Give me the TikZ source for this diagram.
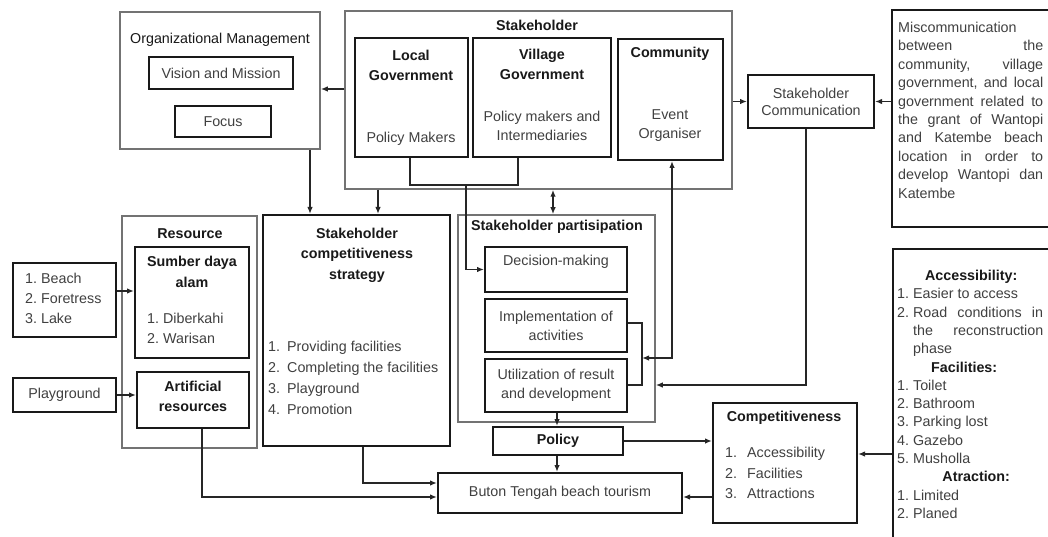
\documentclass[tikz,border=0pt]{standalone}
\usepackage{fontspec}
\setmainfont{Liberation Sans}
\usetikzlibrary{arrows.meta,fit,calc}
\frenchspacing
\begin{document}
\frenchspacing
\begin{tikzpicture}[x=1pt,y=-1pt,
  grp/.style={draw=black!55, line width=1.5pt, inner sep=0pt},
  bx/.style={draw=black!90, line width=2pt, inner sep=0pt, fill=white},
  txt/.style={inner sep=0pt, text=black!75, align=center, font=\fontsize{14.3}{19}\selectfont},
  ttl/.style={inner sep=0pt, text=black!90, align=center, font=\fontsize{14.3}{20}\selectfont\bfseries},
  lst/.style={inner sep=0pt, text=black!75, align=left, anchor=north west, font=\fontsize{14.3}{20}\selectfont},
  conn/.style={draw=black!85, line width=1.6pt},
  arr/.style={conn, -{Latex[length=7pt,width=5.5pt]}},
  darr/.style={conn, {Latex[length=7pt,width=5.5pt]}-{Latex[length=7pt,width=5.5pt]}},
]
\useasboundingbox[fill=white] (0,0) rectangle (1048,537);
\clip (0,0) rectangle (1048,537);

% helper coordinates
\foreach \v in {202,310,363,378,410,466,518,553,557,642,672,806} {\coordinate (x\v) at (\v,0);}
\foreach \v in {89,185,291,323,358,385,454,483,497} {\coordinate (y\v) at (0,\v);}

% ---------- group boxes ----------
\node[grp, fit={(120,12) (320,149)}] (org) {};
\node[grp, fit={(345,11) (732,189)}] (stake) {};
\node[grp, fit={(122,216) (257,448)}] (res) {};
\node[grp, fit={(458,215) (655,422)}] (part) {};

% ---------- inner boxes ----------
\node[bx, fit={(149,57) (293,89)}] (vm) {};
\node[bx, fit={(175,106) (271,137)}] (foc) {};
\node[bx, fit={(355,38) (468,157)}] (lg) {};
\node[bx, fit={(473,38) (611,157)}] (vg) {};
\node[bx, fit={(618,39) (723,160)}] (cm) {};
\node[bx, fit={(748,75) (874,128)}] (sc) {};
\node[bx, fit={(892,10) (1056,227)}] (misc) {};
\node[bx, fit={(893,249) (1056,560)}] (rbox) {};
\node[bx, fit={(13,263) (116,337)}] (nat) {};
\node[bx, fit={(13,378) (116,412)}] (play) {};
\node[bx, fit={(135,247) (249,358)}] (sumber) {};
\node[bx, fit={(137,372) (249,428)}] (art) {};
\node[bx, fit={(263,215) (450,446)}] (strat) {};
\node[bx, fit={(485,247) (627,292)}] (dm) {};
\node[bx, fit={(485,299) (627,352)}] (impl) {};
\node[bx, fit={(485,359) (627,412)}] (util) {};
\node[bx, fit={(493,427) (623,455)}] (pol) {};
\node[bx, fit={(438,473) (682,513)}] (buton) {};
\node[bx, fit={(713,403) (857,523)}] (comp) {};

% ---------- texts ----------
\node[txt, text=black!90] (orgT) at (220,40) {Organizational Management};
\node[txt] (vmT) at (vm) {Vision and Mission};
\node[txt] (focT) at (foc) {Focus};
\node[ttl] (stkT) at (537,25) {Stakeholder};
\node[ttl] (lgT) at (411,65) {Local\\Government};
\node[txt] (lgS) at (411,139) {Policy Makers};
\node[ttl] (vgT) at (542,64) {Village\\Government};
\node[txt] (vgS) at (542,126) {Policy makers and\\Intermediaries};
\node[ttl] (cmT) at (670,54) {Community};
\node[txt] (cmS) at (670,126) {Event\\Organiser};
\node[txt, font=\fontsize{14.3}{17}\selectfont] (scT) at (sc) {Stakeholder\\Communication};
\node[lst, font=\fontsize{14.3}{18.4}\selectfont] (miscT) at (898,22) {Miscommunication\\
\makebox[145pt][s]{between the}\\
\makebox[145pt][s]{community, village}\\
\makebox[145pt][s]{government, and local}\\
\makebox[145pt][s]{government related to}\\
\makebox[145pt][s]{the grant of Wantopi}\\
\makebox[145pt][s]{and Katembe beach}\\
\makebox[145pt][s]{location in order to}\\
\makebox[145pt][s]{develop Wantopi dan}\\
Katembe};
\node[lst, font=\fontsize{14.3}{18.3}\selectfont] (rbT) at (897,270) {%
\makebox[148pt][c]{\color{black!90}\bfseries Accessibility:}\\
1. Easier to access\\
2. \makebox[130pt][s]{Road conditions in}\\
\hspace*{16pt}\makebox[130pt][s]{the reconstruction}\\
\hspace*{16pt}phase\\
\makebox[134pt][c]{\color{black!90}\bfseries Facilities:}\\
1. Toilet\\
2. Bathroom\\
3. Parking lost\\
4. Gazebo\\
5. Musholla\\
\makebox[158pt][c]{\color{black!90}\bfseries Atraction:}\\
1. Limited\\
2. Planed};
\node[ttl] (resT) at (190,234) {Resource};
\node[ttl, font=\fontsize{14.3}{21}\selectfont\bfseries] (sumT) at (192,272) {Sumber daya\\alam};
\node[lst] (sumL) at (147,313) {1. Diberkahi\\2. Warisan};
\node[ttl] (artT) at (193,396) {Artificial\\resources};
\node[lst] (natL) at (25,273) {1. Beach\\2. Foretress\\3. Lake};
\node[txt] (playT) at (play) {Playground};
\node[ttl, font=\fontsize{14.3}{20.5}\selectfont\bfseries] (stratT) at (357,255) {Stakeholder\\competitiveness\\strategy};
\node[lst, font=\fontsize{14.3}{21}\selectfont] (stratL) at (268,341) {\makebox[19pt][l]{1.}Providing facilities\\
\makebox[19pt][l]{2.}Completing the facilities\\
\makebox[19pt][l]{3.}Playground\\
\makebox[19pt][l]{4.}Promotion};
\node[ttl] (partT) at (557,227) {Stakeholder partisipation};
\node[txt] (dmT) at (556,262) {Decision-making};
\node[txt] (implT) at (impl) {Implementation of\\activities};
\node[txt] (utilT) at (util) {Utilization of result\\and development};
\node[ttl] (polT) at (pol) {Policy};
\node[txt] (butT) at (buton) {Buton Tengah beach tourism};
\node[ttl] (compT) at (784,418) {Competitiveness};
\node[lst, font=\fontsize{14.3}{20.5}\selectfont] (compL) at (725,447) {\makebox[22pt][l]{1.}Accessibility\\
\makebox[22pt][l]{2.}Facilities\\
\makebox[22pt][l]{3.}Attractions};

% ---------- connectors ----------
\draw[arr] (stake.west |- y89) -- (org.east |- y89);
\draw[arr] (org.south -| x310) -- (strat.north -| x310);
\draw[arr] (stake.south -| x378) -- (strat.north -| x378);
\draw[darr] (stake.south -| x553) -- (part.north -| x553);
\draw[conn] (lg.south -| x410) |- (y185 -| x518) -- (vg.south -| x518);
\draw[arr] (y185 -| x466) |- (dm.west);
\draw[conn] (impl.east |- y323) -| (x642 |- y385) -- (util.east |- y385);
\draw[darr] (x642 |- y358) -| (cm.south -| x672);
\draw[arr] (sc.south -| x806) |- (part.east |- y385);
\draw[arr] (stake.east |- sc.west) -- (sc.west);
\draw[arr] (misc.west |- sc.east) -- (sc.east);
\draw[arr] (util.south -| x557) -- (pol.north -| x557);
\draw[arr] (pol.south -| x557) -- (buton.north -| x557);
\draw[arr] (pol.east) -- (comp.west |- pol.east);
\draw[arr] (comp.west |- y497) -- (buton.east |- y497);
\draw[arr] (rbox.west |- y454) -- (comp.east |- y454);
\draw[arr] (strat.south -| x363) |- (buton.west |- y483);
\draw[arr] (art.south -| x202) |- (buton.west |- y497);
\draw[arr] (nat.east |- y291) -- (sumber.west |- y291);
\draw[arr] (play.east) -- (art.west |- play.east);
\end{tikzpicture}
\end{document}
